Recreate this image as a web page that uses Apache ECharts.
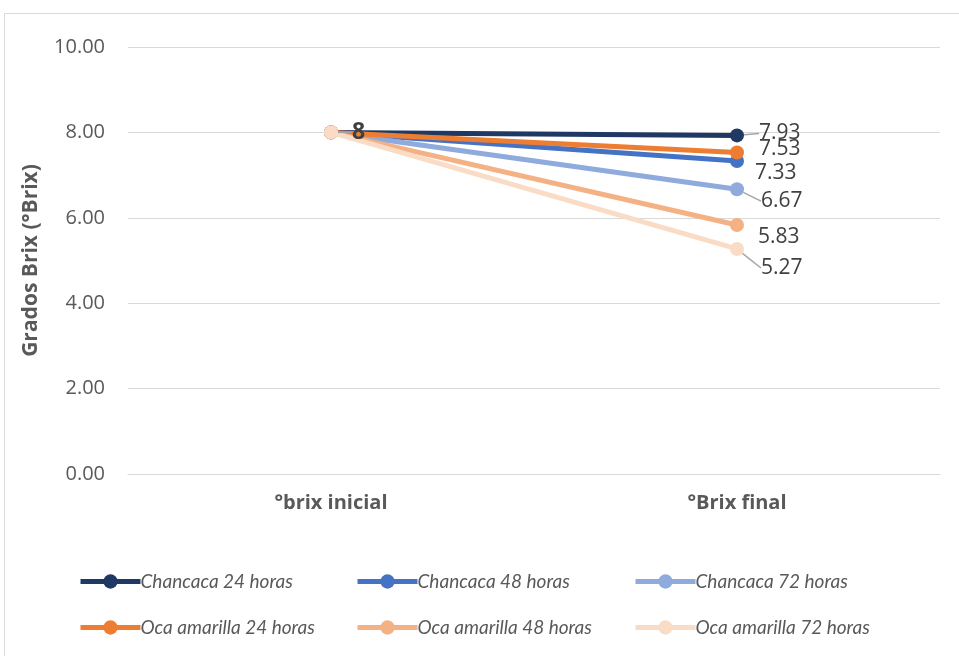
<!DOCTYPE html>
<html>
<head>
<meta charset="utf-8">
<script src="https://cdn.jsdelivr.net/npm/echarts@6/dist/echarts.min.js"></script>
<style>
  html, body { margin: 0; padding: 0; background: #fff; }
  #chart { width: 959px; height: 656px; }
</style>
</head>
<body>
<div id="chart"></div>
<script>
// Stages of measurement
const categories = ['°brix inicial', '°Brix final'];
// Series names and their °Brix readings (initial, final)
const seriesNames = [
  'Chancaca 24 horas', 'Chancaca 48 horas', 'Chancaca 72 horas',
  'Oca amarilla 24 horas', 'Oca amarilla 48 horas', 'Oca amarilla 72 horas'
];
const chancaca24 = [8, 7.93];
const chancaca48 = [8, 7.33];
const chancaca72 = [8, 6.67];
const oca24 = [8, 7.53];
const oca48 = [8, 5.83];
const oca72 = [8, 5.27];
const yTicks = [0, 2, 4, 6, 8, 10];

const colors = ['#203864', '#4472C4', '#8FAADC', '#ED7D31', '#F4B183', '#FADBC6'];
const values = [chancaca24, chancaca48, chancaca72, oca24, oca48, oca72];
// offsets for the end-of-line value labels
const endLabel = [
  { dx: 3, dy: -2, line: true },
  { dx: -1, dy: 12, line: false },
  { dx: 5, dy: 12, line: true },
  { dx: 3, dy: -3, line: false },
  { dx: 2, dy: 12, line: false },
  { dx: 5, dy: 19, line: true }
];

const axisFont = '"Open Sans", sans-serif';
const legendFont = 'Lato, sans-serif';

const series = values.map((vals, i) => ({
  name: seriesNames[i],
  type: 'line',
  data: vals.map((v, j) => {
    const item = { value: v };
    if (j === 1) {
      item.label = { show: true, formatter: (p) => p.value.toFixed(2) };
    } else if (i === values.length - 1) {
      // the shared starting value, written once
      item.label = {
        show: true, position: 'right', distance: 14,
        formatter: (p) => String(p.value),
        fontWeight: 'bold', fontSize: 23, color: '#404040'
      };
    }
    return item;
  }),
  symbol: 'circle',
  symbolSize: 14,
  lineStyle: { width: 5, color: colors[i] },
  itemStyle: { color: colors[i] },
  label: {
    show: false,
    position: 'right',
    distance: 12,
    color: '#404040',
    fontSize: 21,
    fontFamily: axisFont
  },
  labelLine: {
    show: endLabel[i].line,
    lineStyle: { color: '#A5A5A5', width: 1.5 }
  },
  labelLayout: (params) => {
    if (params.dataIndex !== 1) return {};
    return { dx: endLabel[i].dx, dy: endLabel[i].dy };
  },
  z: 2 + i
}));

// one legend block per series, laid out in a 3 x 2 grid
const legendCols = [78, 355, 633];
const legendRows = [572, 618];
const legends = seriesNames.map((n, i) => ({
  data: [{ name: n }],
  left: legendCols[i % 3],
  top: legendRows[Math.floor(i / 3)],
  padding: 0,
  itemWidth: 60,
  itemHeight: 18,
  lineStyle: { width: 5 },
  textStyle: { fontSize: 19, fontStyle: 'italic', color: '#595959', fontFamily: legendFont, padding: [0, 0, 0, -5] }
}));

const chart = echarts.init(document.getElementById('chart'));
chart.setOption({
  animation: false,
  backgroundColor: '#fff',
  color: colors,
  graphic: [{
    type: 'rect',
    shape: { x: 4.5, y: 13.5, width: 1000, height: 700 },
    style: { fill: 'none', stroke: '#D9D9D9', lineWidth: 1 },
    silent: true
  }],
  grid: { left: 128, right: 19, top: 47, bottom: 182 },
  xAxis: {
    type: 'category',
    data: categories,
    axisLine: { show: true, lineStyle: { color: '#D9D9D9', width: 1 } },
    axisTick: { show: false },
    axisLabel: { color: '#595959', fontSize: 20, fontWeight: 'bold', fontFamily: axisFont, margin: 19 }
  },
  yAxis: {
    type: 'value',
    min: yTicks[0],
    max: yTicks[yTicks.length - 1],
    interval: 2,
    name: 'Grados Brix (°Brix)',
    nameLocation: 'middle',
    nameGap: 86,
    nameTextStyle: { color: '#595959', fontSize: 21, fontWeight: 'bold', fontFamily: axisFont },
    axisLine: { show: false },
    axisTick: { show: false },
    splitLine: { lineStyle: { color: '#D9D9D9', width: 1 } },
    axisLabel: { color: '#595959', fontSize: 20, fontFamily: axisFont, margin: 23, formatter: (v) => v.toFixed(2) }
  },
  legend: legends,
  series: series
});
</script>
</body>
</html>
